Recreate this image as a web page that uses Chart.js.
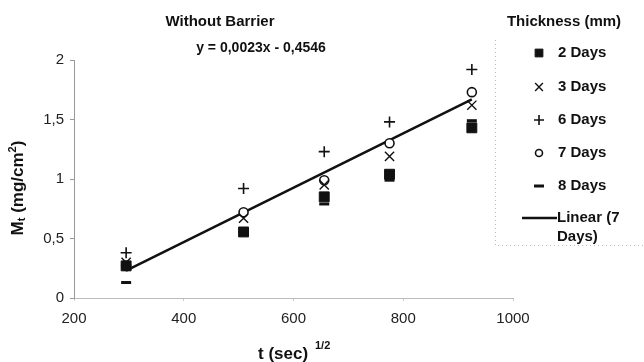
<!DOCTYPE html>
<html>
<head>
<meta charset="utf-8">
<script src="https://cdn.jsdelivr.net/npm/chart.js@4.4.1/dist/chart.umd.min.js"></script>
<style>
  html, body { margin: 0; padding: 0; background: #fff; }
  #wrap { width: 644px; height: 362px; position: relative; }
</style>
</head>
<body>
<div id="wrap"><canvas id="chart"></canvas></div>
<script>
// sqrt(t) values, one per sampling time
var timeRoot = [295, 509, 656, 775, 925];

// M_t (mg/cm2) per thickness series
var days2 = [0.27, 0.555, 0.85, 1.04, 1.43];
var days3 = [0.30, 0.67, 0.95, 1.19, 1.62];
var days6 = [0.38, 0.92, 1.23, 1.48, 1.92];
var days7 = [0.27, 0.72, 0.99, 1.30, 1.73];
var days8 = [0.13, 0.55, 0.79, 0.99, 1.49];

// linear trend of 7 Days, drawn between first and last point
var trendX = [295, 925];
var trendY = [0.23, 1.67];

var xTicks = [200, 400, 600, 800, 1000];
var yTicks = [0, 0.5, 1, 1.5, 2];

var seriesNames = ['2 Days', '3 Days', '6 Days', '7 Days', '8 Days'];

function pts(xs, ys) {
    return xs.map(function (x, i) { return { x: x, y: ys[i] }; });
}

function markerSet(label, values, style, radius, width, fill) {
    return {
        label: label,
        data: pts(timeRoot, values),
        showLine: false,
        pointStyle: style,
        pointRadius: radius,
        pointHoverRadius: radius,
        pointBorderWidth: width,
        pointBorderColor: '#111',
        pointBackgroundColor: fill ? '#111' : '#fff'
    };
}

var datasets = [
    markerSet(seriesNames[4], days8, 'line', 5, 3, true),
    markerSet(seriesNames[0], days2, 'rect', 7, 1, true),
    markerSet(seriesNames[1], days3, 'crossRot', 6.5, 1.4, false),
    markerSet(seriesNames[2], days6, 'cross', 5.5, 1.6, false),
    markerSet(seriesNames[3], days7, 'circle', 4.5, 1.6, false),
    {
        label: 'Linear (7 Days)',
        data: pts(trendX, trendY),
        showLine: true,
        borderColor: '#111',
        borderWidth: 2.5,
        pointRadius: 0,
        fill: false
    }
];

var FONT = '"Liberation Sans", Arial, sans-serif';
var legendSize = { rect: 5.5, crossRot: 5.5, cross: 5, circle: 3.5, line: 5 };

var decorations = {
    id: 'decorations',
    afterDraw: function (chart) {
        var ctx = chart.ctx;
        ctx.save();
        ctx.fillStyle = '#111';
        ctx.textBaseline = 'middle';

        // title and equation
        ctx.textAlign = 'center';
        ctx.font = 'bold 15px ' + FONT;
        ctx.fillText('Without Barrier', 220, 22);
        ctx.font = 'bold 14px ' + FONT;
        ctx.fillText('y = 0,0023x - 0,4546', 261, 48);

        // x axis title with superscript
        ctx.textAlign = 'left';
        ctx.font = 'bold 17px ' + FONT;
        ctx.fillText('t (sec)', 258, 354);
        ctx.font = 'bold 11px ' + FONT;
        ctx.fillText('1/2', 315, 346);

        // y axis title, rotated, with subscript and superscript
        ctx.save();
        ctx.translate(18, 188);
        ctx.rotate(-Math.PI / 2);
        var parts = [
            ['M', 'bold 17px ', 0],
            ['t', 'bold 11px ', 4],
            [' (mg/cm', 'bold 17px ', 0],
            ['2', 'bold 11px ', -5],
            [')', 'bold 17px ', 0]
        ];
        var total = 0;
        parts.forEach(function (p) { ctx.font = p[1] + FONT; total += ctx.measureText(p[0]).width; });
        var cx = -total / 2;
        parts.forEach(function (p) {
            ctx.font = p[1] + FONT;
            ctx.fillText(p[0], cx, p[2]);
            cx += ctx.measureText(p[0]).width;
        });
        ctx.restore();

        // legend box
        var lx = 495, lw = 149, lh = 245;
        ctx.fillStyle = '#fff';
        ctx.fillRect(lx, 0, lw, lh);
        ctx.strokeStyle = '#bbb';
        ctx.lineWidth = 1;
        ctx.setLineDash([1, 3]);
        ctx.beginPath();
        ctx.moveTo(lx + 0.5, 40);
        ctx.lineTo(lx + 0.5, lh + 0.5);
        ctx.lineTo(644, lh + 0.5);
        ctx.stroke();
        ctx.setLineDash([]);

        ctx.fillStyle = '#111';
        ctx.textAlign = 'center';
        ctx.font = 'bold 15px ' + FONT;
        ctx.fillText('Thickness (mm)', 564, 22);

        var order = [1, 2, 3, 4, 0];
        var rows = [53, 87, 120, 153, 186];
        ctx.textAlign = 'left';
        order.forEach(function (di, i) {
            var ds = chart.data.datasets[di];
            var y = rows[i];
            ctx.lineWidth = ds.pointBorderWidth;
            ctx.strokeStyle = ds.pointBorderColor;
            ctx.fillStyle = ds.pointBackgroundColor;
            Chart.helpers.drawPoint(ctx, {
                pointStyle: ds.pointStyle,
                radius: legendSize[ds.pointStyle],
                borderWidth: ds.pointBorderWidth,
                rotation: 0
            }, 539, y);
            ctx.fillStyle = '#111';
            ctx.font = 'bold 15px ' + FONT;
            ctx.fillText(ds.label, 558, y);
        });

        ctx.strokeStyle = '#111';
        ctx.lineWidth = 2.5;
        ctx.beginPath();
        ctx.moveTo(522, 218);
        ctx.lineTo(557, 218);
        ctx.stroke();
        ctx.fillStyle = '#111';
        ctx.font = 'bold 15px ' + FONT;
        ctx.fillText('Linear (7', 557, 218);
        ctx.fillText('Days)', 557, 237);

        ctx.restore();
    }
};

new Chart(document.getElementById('chart').getContext('2d'), {
    type: 'scatter',
    data: { datasets: datasets },
    options: {
        responsive: true,
        maintainAspectRatio: false,
        animation: false,
        layout: { padding: { top: 60, right: 131, bottom: 0, left: 0 } },
        plugins: {
            legend: { display: false },
            title: { display: false },
            tooltip: { enabled: false }
        },
        scales: {
            x: {
                type: 'linear',
                min: xTicks[0],
                max: xTicks[xTicks.length - 1],
                afterFit: function (scale) { scale.height = 64; },
                afterBuildTicks: function (scale) {
                    scale.ticks = xTicks.map(function (v) { return { value: v }; });
                },
                border: { display: true, color: '#bbb', dash: [1, 4] },
                grid: { display: true, drawOnChartArea: false, tickLength: 3, color: '#ccc' },
                ticks: {
                    color: '#222',
                    padding: 9,
                    font: { family: FONT, size: 15 },
                    maxRotation: 0,
                    callback: function (v) { return String(v); }
                }
            },
            y: {
                min: yTicks[0],
                max: yTicks[yTicks.length - 1],
                afterFit: function (scale) { scale.width = 74; },
                afterBuildTicks: function (scale) {
                    scale.ticks = yTicks.map(function (v) { return { value: v }; });
                },
                border: { display: true, color: '#999', dash: [1, 2] },
                grid: { display: true, drawOnChartArea: false, tickLength: 4, color: '#999' },
                ticks: {
                    color: '#222',
                    padding: 6,
                    font: { family: FONT, size: 15 },
                    callback: function (v) { return String(v).replace('.', ','); }
                }
            }
        }
    },
    plugins: [decorations]
});
</script>
</body>
</html>
